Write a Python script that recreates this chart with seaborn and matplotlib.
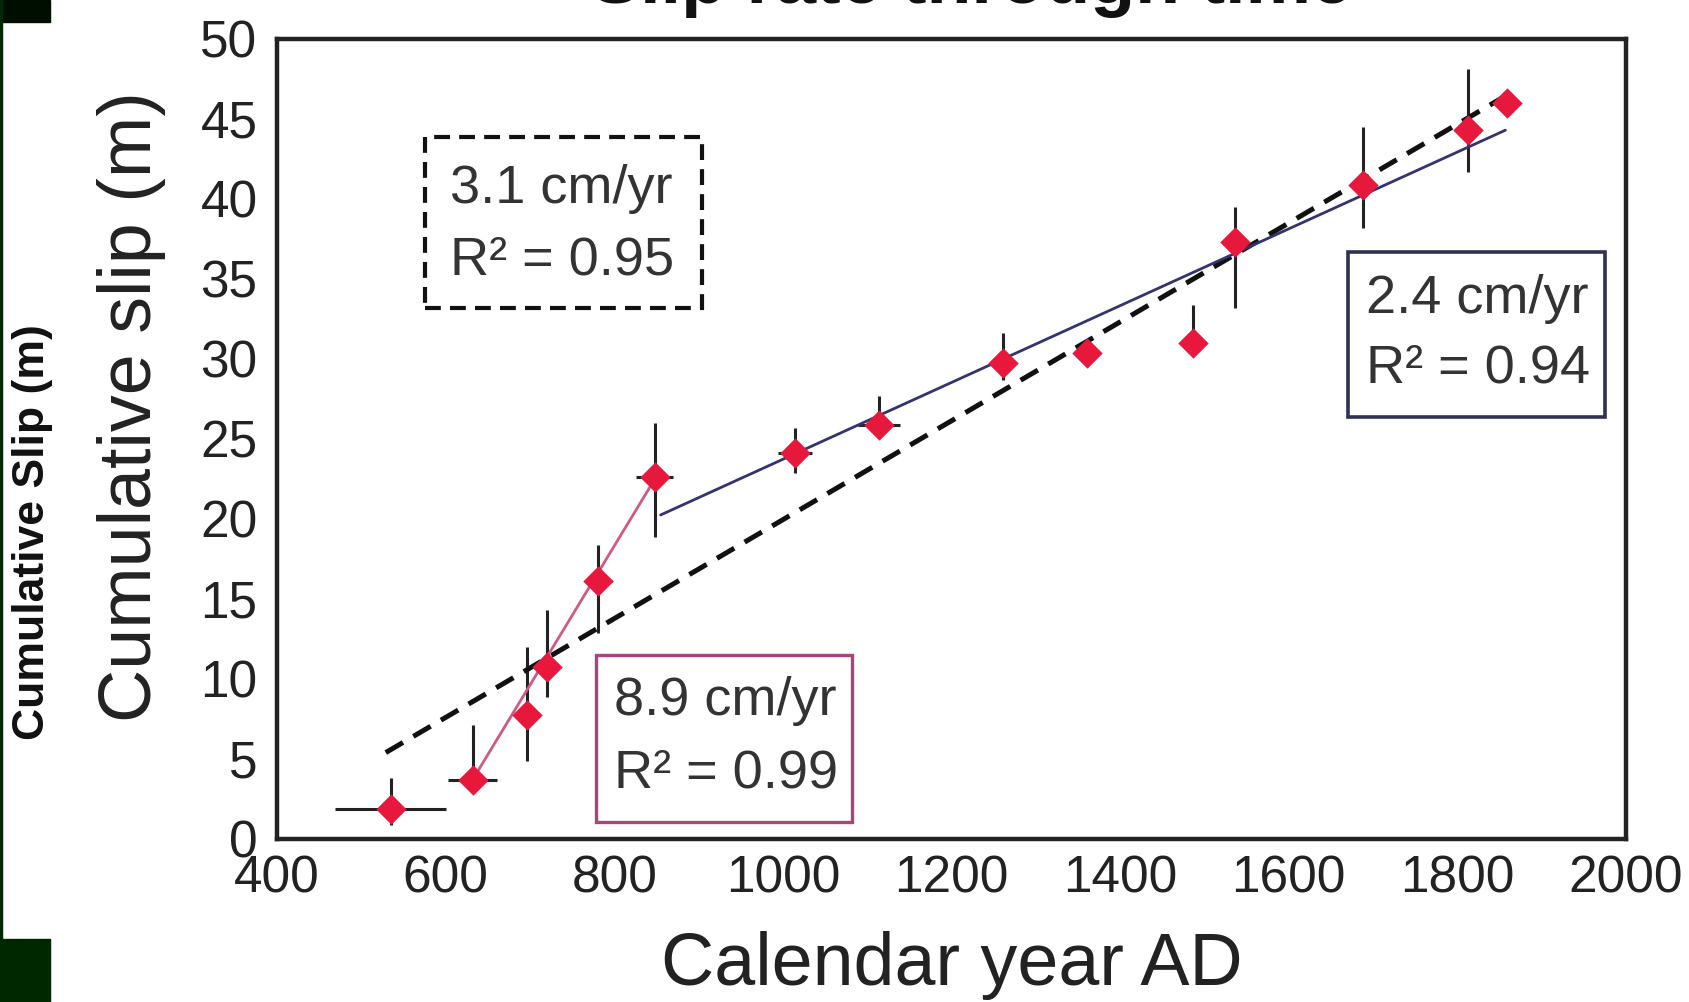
import matplotlib
matplotlib.use("Agg")
import matplotlib.pyplot as plt
from matplotlib.patches import Rectangle
import seaborn as sns
import pandas as pd

# dated offsets (calendar year AD) and cumulative slip (m)
years = [535, 632, 697, 720, 781, 848, 1014, 1114, 1261, 1361, 1487, 1536, 1688, 1813, 1859]
slip = [1.9, 3.7, 7.75, 10.75, 16.1, 22.6, 24.1, 25.9, 29.75, 30.4, 31.0, 37.3, 40.9, 44.3, 46.0]
slip_err_lo = [1.0, 0.8, 2.85, 1.85, 3.2, 3.7, 1.2, 0.7, 1.05, 0.0, 0.0, 4.1, 2.7, 2.6, 0.0]
slip_err_hi = [1.9, 3.4, 4.25, 3.55, 2.3, 3.4, 1.6, 1.8, 1.85, 0.0, 2.4, 2.2, 3.6, 3.8, 0.0]
year_err = [66, 29, 0, 0, 16, 22, 20, 25, 0, 0, 0, 0, 0, 0, 0]

# fitted rates (end points of each fit line)
fast_years = [632, 847]
fast_slip = [3.7, 22.4]
slow_years = [855, 1857]
slow_slip = [20.25, 44.3]
mean_years = [529, 1859]
mean_slip = [5.4, 46.5]

x_ticks = [400, 600, 800, 1000, 1200, 1400, 1600, 1800, 2000]
y_ticks = [0, 5, 10, 15, 20, 25, 30, 35, 40, 45, 50]

df = pd.DataFrame({"year": years, "slip": slip})

sns.set_theme(style="white")
plt.rcParams["font.family"] = ["Liberation Sans", "DejaVu Sans"]

fig = plt.figure(figsize=(16.9, 10.02), dpi=100)
ax = fig.add_axes([0.1639, 0.1627, 0.7982, 0.7984])

# error bars
ax.errorbar(years, slip, yerr=[slip_err_lo, slip_err_hi], xerr=year_err,
            fmt="none", ecolor="#222222", elinewidth=2.2, capsize=0, zorder=2)

# fit lines
ax.plot(mean_years, mean_slip, color="#111111", lw=3.6, dashes=(4, 2.4), zorder=3)
ax.plot(fast_years, fast_slip, color="#cf5a86", lw=2.0, zorder=3)
ax.plot(slow_years, slow_slip, color="#34336e", lw=2.0, zorder=3)

sns.scatterplot(data=df, x="year", y="slip", marker="D", s=240, color="#e8173c",
                edgecolor="#e8173c", linewidth=0, ax=ax, zorder=4)

ax.set_xlim(400, 2000)
ax.set_ylim(0, 50)
ax.set_xticks(x_ticks)
ax.set_yticks(y_ticks)
ax.tick_params(axis="both", length=0, labelsize=37, colors="#222222")
ax.tick_params(axis="x", pad=11)
ax.tick_params(axis="y", pad=14)
for sp in ax.spines.values():
    sp.set_linewidth(3.2)
    sp.set_color("#222222")

ax.set_xlabel("Calendar year AD", fontsize=53, color="#222222", labelpad=20)
ax.set_ylabel("Cumulative slip (m)", fontsize=53, color="#222222")
ax.yaxis.set_label_coords(-0.082, 0.54)

# annotation boxes
box_font = dict(fontsize=39, color="#333333", transform=ax.transAxes, va="baseline", ha="left")
ax.add_patch(Rectangle((0.1097, 0.6638), 0.2053, 0.2137, transform=ax.transAxes,
                       fill=False, edgecolor="#111111", lw=3.0, ls=(0, (3.8, 2.2)), zorder=5))
ax.text(0.128, 0.795, "3.1 cm/yr", **box_font)
ax.text(0.128, 0.705, "R² = 0.95", **box_font)

ax.add_patch(Rectangle((0.2365, 0.0212), 0.1895, 0.2088, transform=ax.transAxes,
                       fill=False, edgecolor="#a8457a", lw=2.4, zorder=5))
ax.text(0.25, 0.155, "8.9 cm/yr", **box_font)
ax.text(0.25, 0.064, "R² = 0.99", **box_font)

ax.add_patch(Rectangle((0.7939, 0.5275), 0.1905, 0.2062, transform=ax.transAxes,
                       fill=False, edgecolor="#30304f", lw=2.6, zorder=5))
ax.text(0.8073, 0.6575, "2.4 cm/yr", **box_font)
ax.text(0.8073, 0.57, "R² = 0.94", **box_font)

# title, mostly cut off at the top edge
fig.text(0.5746, 0.997, "Slip rate through time", fontsize=53, fontweight="bold",
         ha="center", va="baseline", color="#111111")

# left strip from the surrounding page
fig.patches.append(Rectangle((0, 1 - 22 / 1002), 50 / 1690, 22 / 1002,
                             transform=fig.transFigure, color="#000e00"))
fig.patches.append(Rectangle((0, 0), 50 / 1690, 63 / 1002,
                             transform=fig.transFigure, color="#002800"))
fig.patches.append(Rectangle((0, 0), 2 / 1690, 1,
                             transform=fig.transFigure, color="#002800"))
fig.text(0.019, 0.469, "Cumulative Slip (m)", fontsize=32, fontweight="bold",
         rotation=90, ha="center", va="center", color="#111111")

fig.savefig("out.png", dpi=100)
